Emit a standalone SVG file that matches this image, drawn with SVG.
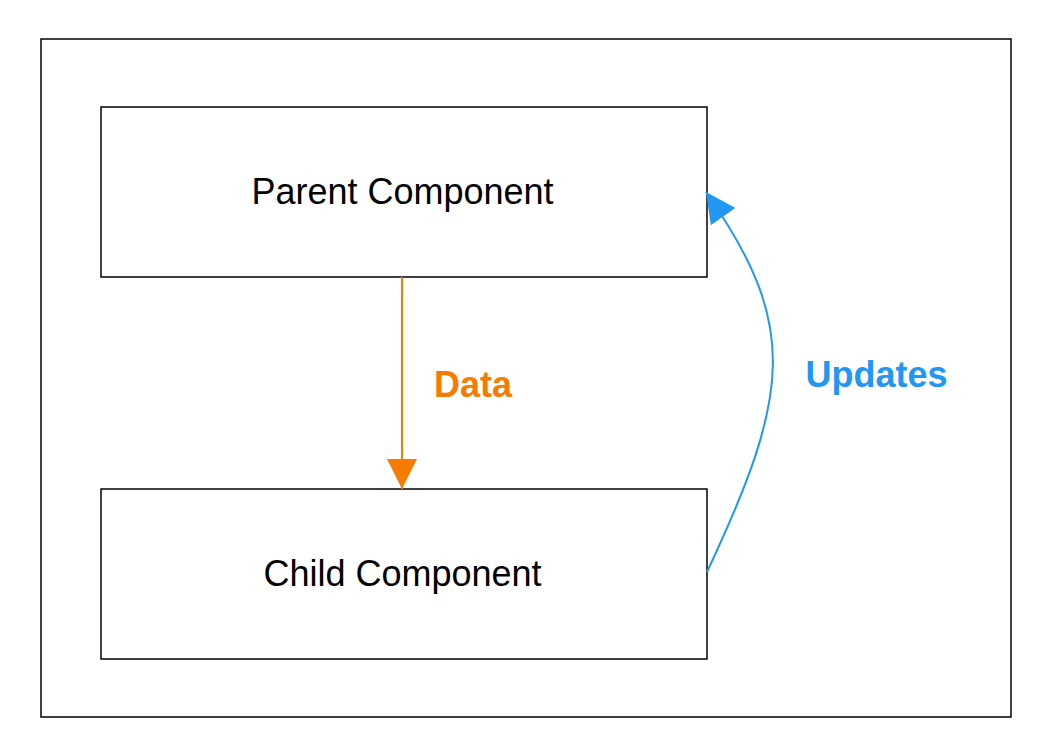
<svg xmlns="http://www.w3.org/2000/svg" width="1040" height="754" viewBox="0 0 1040 754">
<defs>
<style>
.box{fill:#fff;stroke:#000;stroke-width:1.5}
.lbl{font-family:"Liberation Sans",Arial,sans-serif;font-size:36px;text-anchor:middle;fill:#000}
.el{font-family:"Liberation Sans",Arial,sans-serif;font-size:36px;font-weight:bold}
</style>
<marker id="ao" markerWidth="30" markerHeight="30" viewBox="0 0 30 30" refX="30" refY="15" orient="auto" markerUnits="userSpaceOnUse"><path d="M0,0 L30,15 L0,30 Z" fill="#F57C00"/></marker>
<marker id="ab" markerWidth="30" markerHeight="30" viewBox="0 0 30 30" refX="30" refY="15" orient="auto" markerUnits="userSpaceOnUse"><path d="M0,0 L30,15 L0,30 Z" fill="#2196F3"/></marker>
</defs>
<rect x="0" y="0" width="1040" height="754" fill="#fff"/>
<rect x="41" y="39" width="970" height="678" fill="none" stroke="#000" stroke-width="1.5"/>
<g id="parent"><rect class="box" x="101" y="107" width="606" height="170"/><text class="lbl" x="402.5" y="204">Parent Component</text></g>
<g id="child"><rect class="box" x="101" y="489" width="606" height="170"/><text class="lbl" x="402.5" y="586">Child Component</text></g>
<g id="connectors">
<path d="M402,277 L402,489" stroke="#F57C00" stroke-width="2" fill="none" marker-end="url(#ao)"/>
<text class="el" x="473" y="397" text-anchor="middle" fill="#F57C00">Data</text>
<path d="M707,572 C791,393 799,325 706,192" stroke="#2196F3" stroke-width="2" fill="none" marker-end="url(#ab)"/>
<text class="el" x="876.5" y="387" text-anchor="middle" fill="#2196F3">Updates</text>
</g>
</svg>
